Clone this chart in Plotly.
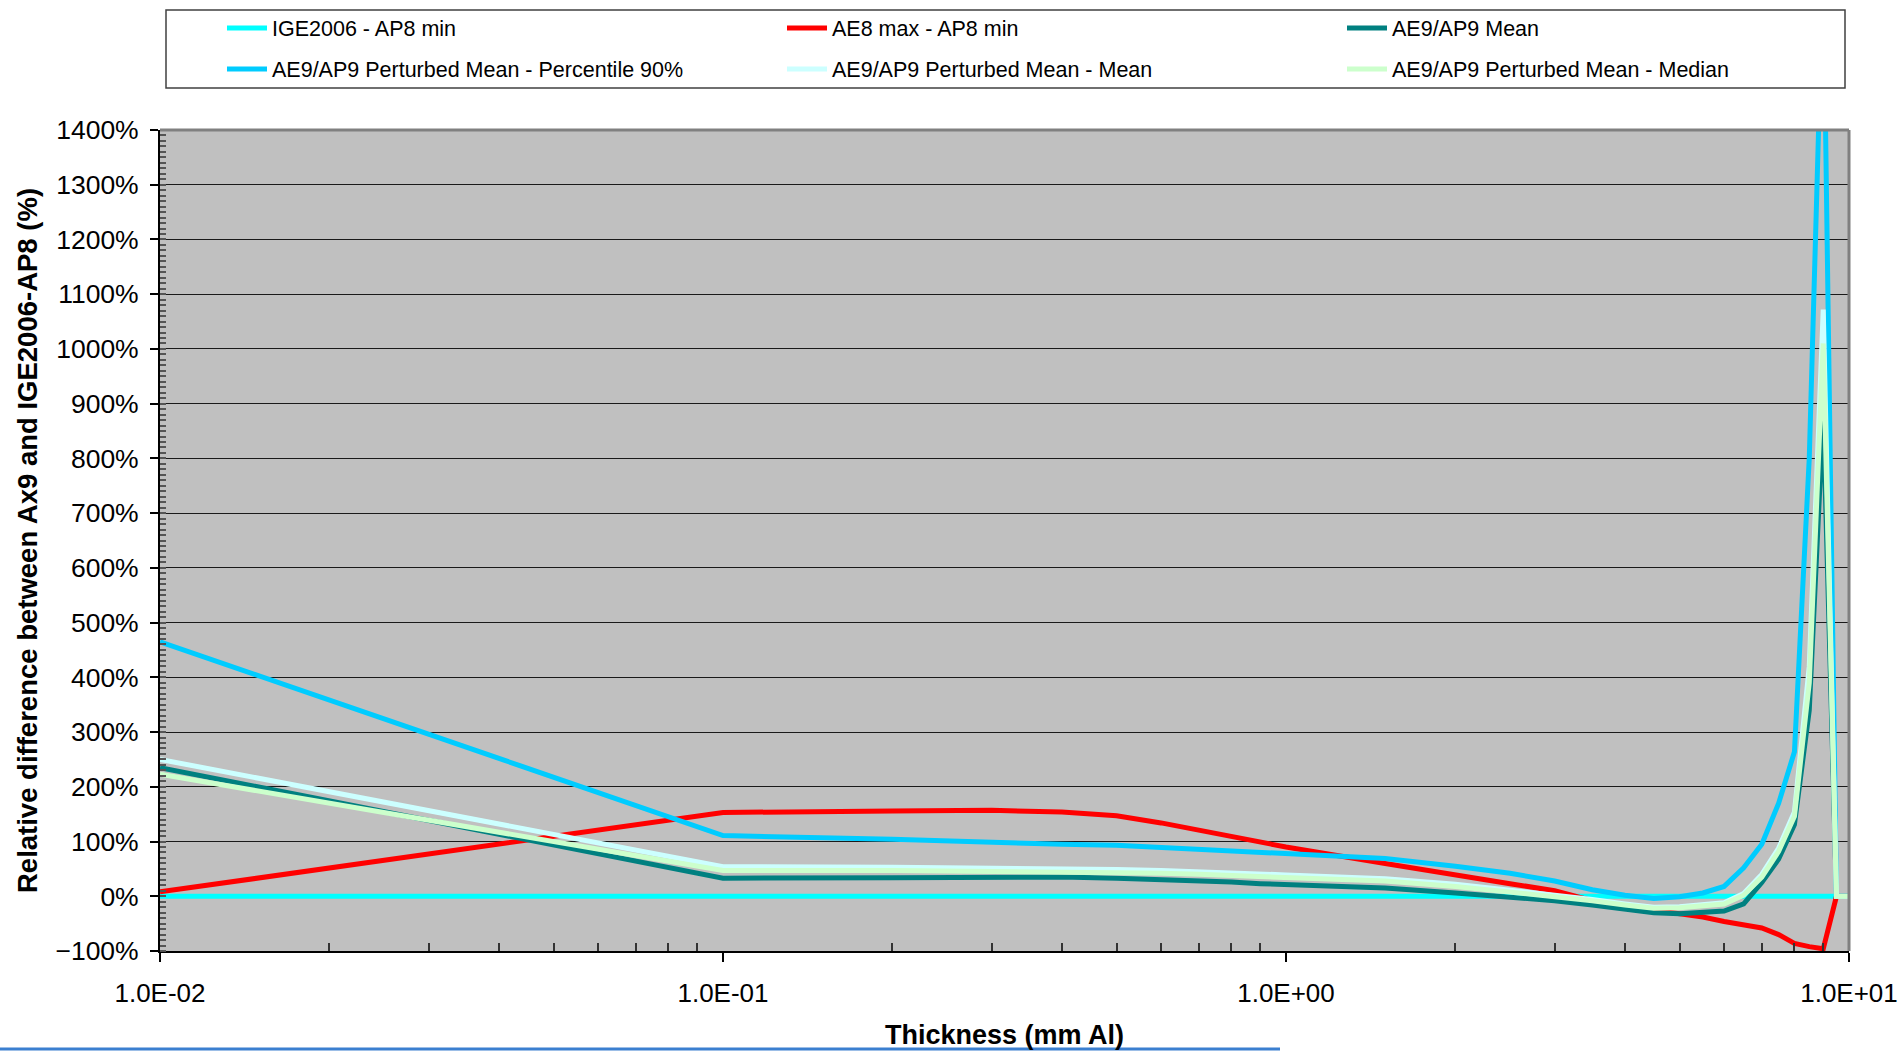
import plotly.graph_objects as go

# ---------------- data ----------------
thickness = [0.01, 0.1, 0.2, 0.3, 0.4, 0.5, 0.6, 0.7, 0.8, 0.9, 1.0, 1.5, 2.0, 2.5, 3.0,
             3.5, 4.0, 4.5, 5.0, 5.5, 6.0, 6.5, 7.0, 7.5, 8.0, 8.5, 9.0, 9.5, 10.0]

ige2006_ap8min = [0, 0, 0, 0, 0, 0, 0, 0, 0, 0, 0, 0, 0, 0, 0,
                  0, 0, 0, 0, 0, 0, 0, 0, 0, 0, 0, 0, 0, 0]
ae8max_ap8min = [8, 153, 156, 157, 154, 147, 134, 121, 110, 99, 90, 60, 38, 23, 10,
                 -8, -18, -25, -33, -38, -46, -52, -58, -70, -86, -92, -96, 0, 0]
ae9ap9_mean = [235, 33, 34, 35, 35, 33, 31, 28, 26, 23, 21, 15, 6, -2, -8,
               -16, -24, -30, -32, -30, -27, -14, 25, 68, 131, 340, 880, 0, 0]
pm_p90 = [465, 111, 104, 98, 95, 93, 89, 85, 82, 79, 77, 69, 55, 42, 28,
          12, 2, -4, -1, 6, 18, 52, 95, 170, 264, 800, 1700, 0, 0]
pm_mean = [250, 54, 53, 52, 51, 49, 47, 45, 43, 41, 39, 32, 22, 11, 3,
           -6, -14, -20, -19, -15, -12, 5, 40, 88, 154, 420, 1072, 0, 0]
pm_median = [223, 47, 47, 46, 45, 44, 42, 40, 38, 36, 34, 28, 18, 8, 0,
             -8, -16, -22, -21, -17, -14, 2, 35, 82, 146, 390, 1010, 0, 0]

series_names = ["IGE2006 - AP8 min", "AE8 max - AP8 min", "AE9/AP9 Mean",
                "AE9/AP9 Perturbed Mean - Percentile 90%",
                "AE9/AP9 Perturbed Mean - Mean",
                "AE9/AP9 Perturbed Mean - Median"]
series_values = [ige2006_ap8min, ae8max_ap8min, ae9ap9_mean, pm_p90, pm_mean, pm_median]
series_colors = ["#00FFFF", "#FF0000", "#008080", "#00CCFF", "#CCFFFF", "#CCFFCC"]

x_tickvals = [0.01, 0.1, 1, 10]
x_ticktext = ["1.0E-02", "1.0E-01", "1.0E+00", "1.0E+01"]
x_minor = [0.02, 0.03, 0.04, 0.05, 0.06, 0.07, 0.08, 0.09,
           0.2, 0.3, 0.4, 0.5, 0.6, 0.7, 0.8, 0.9,
           2, 3, 4, 5, 6, 7, 8, 9]

FONT = "Liberation Sans, Arial, sans-serif"

# plot area in pixels
L, R, T, B = 160, 1849, 130, 951
W, H = 1901, 1051
pw, ph = R - L, B - T


def px(xp):
    return (xp - L) / pw


def py(yp):
    return (B - yp) / ph


# legend slots: (x of item start, y of row centre), 3 columns x 2 rows
legend_cols = [222, 782, 1342]
legend_rows = [28, 69]
legend_ids = ["legend", "legend2", "legend3", "legend4", "legend5", "legend6"]

fig = go.Figure()
for i, (name, vals, col) in enumerate(zip(series_names, series_values, series_colors)):
    fig.add_trace(go.Scatter(x=thickness, y=vals, mode="lines", name=name,
                             line=dict(color=col, width=5), legend=legend_ids[i]))

legend_layout = {}
for i, lid in enumerate(legend_ids):
    c, r = i % 3, i // 3
    legend_layout[lid] = dict(
        x=px(legend_cols[c]), xanchor="left", y=py(legend_rows[r]), yanchor="middle",
        font=dict(size=21.5, family=FONT, color="black"),
        bgcolor="rgba(0,0,0,0)", borderwidth=0, itemwidth=40,
    )

fig.update_layout(
    width=W, height=H,
    margin=dict(l=L, r=W - R, t=T, b=H - B, pad=0, autoexpand=False),
    paper_bgcolor="white",
    plot_bgcolor="#C0C0C0",
    font=dict(family=FONT, color="black", size=26),
    showlegend=True,
    xaxis=dict(
        type="log", range=[-2, 1],
        tickmode="array", tickvals=x_tickvals, ticktext=x_ticktext,
        ticks="outside", ticklen=9, tickwidth=1.5, tickcolor="black",
        showgrid=False, zeroline=False,
        showline=True, linecolor="black", linewidth=2,
        tickfont=dict(size=26, family=FONT),
        ticklabelstandoff=9,
        minor=dict(tickmode="array", tickvals=x_minor, ticks="inside", ticklen=8,
                   tickcolor="#333333", tickwidth=1.5, showgrid=False),
        title=dict(text="<b>Thickness (mm Al)</b>", font=dict(size=27, family=FONT), standoff=18),
        automargin=False,
    ),
    yaxis=dict(
        range=[-100, 1400], tickmode="linear", tick0=-100, dtick=100, ticksuffix="%",
        ticks="outside", ticklen=8, tickwidth=1.5, tickcolor="black",
        showgrid=True, gridcolor="#1a1a1a", gridwidth=1,
        zeroline=False,
        showline=True, linecolor="black", linewidth=2,
        tickfont=dict(size=26.5, family=FONT),
        ticklabelstandoff=6,
        minor=dict(dtick=10, ticks="inside", ticklen=6, tickcolor="#555555",
                   tickwidth=1.5, showgrid=False),
        title=dict(text="<b>Relative difference between Ax9 and IGE2006-AP8 (%)</b>",
                   font=dict(size=27.5, family=FONT), standoff=10),
        automargin=False,
    ),
    shapes=[
        # gray plot frame (top and right)
        dict(type="line", xref="paper", yref="paper", x0=0, x1=1, y0=1, y1=1,
             line=dict(color="#808080", width=3), layer="above"),
        dict(type="line", xref="paper", yref="paper", x0=1, x1=1, y0=0, y1=1,
             line=dict(color="#808080", width=3), layer="above"),
        # legend border
        dict(type="rect", xref="paper", yref="paper",
             x0=px(166), x1=px(1845), y0=py(88), y1=py(10),
             line=dict(color="#404040", width=1.5), fillcolor="rgba(0,0,0,0)", layer="above"),
        # slide bottom rule
        dict(type="line", xref="paper", yref="paper", x0=px(0), x1=px(1280), y0=py(1049), y1=py(1049),
             line=dict(color="#3B7FD0", width=3), layer="above"),
    ],
    **legend_layout,
)

fig.write_html("out.html")
